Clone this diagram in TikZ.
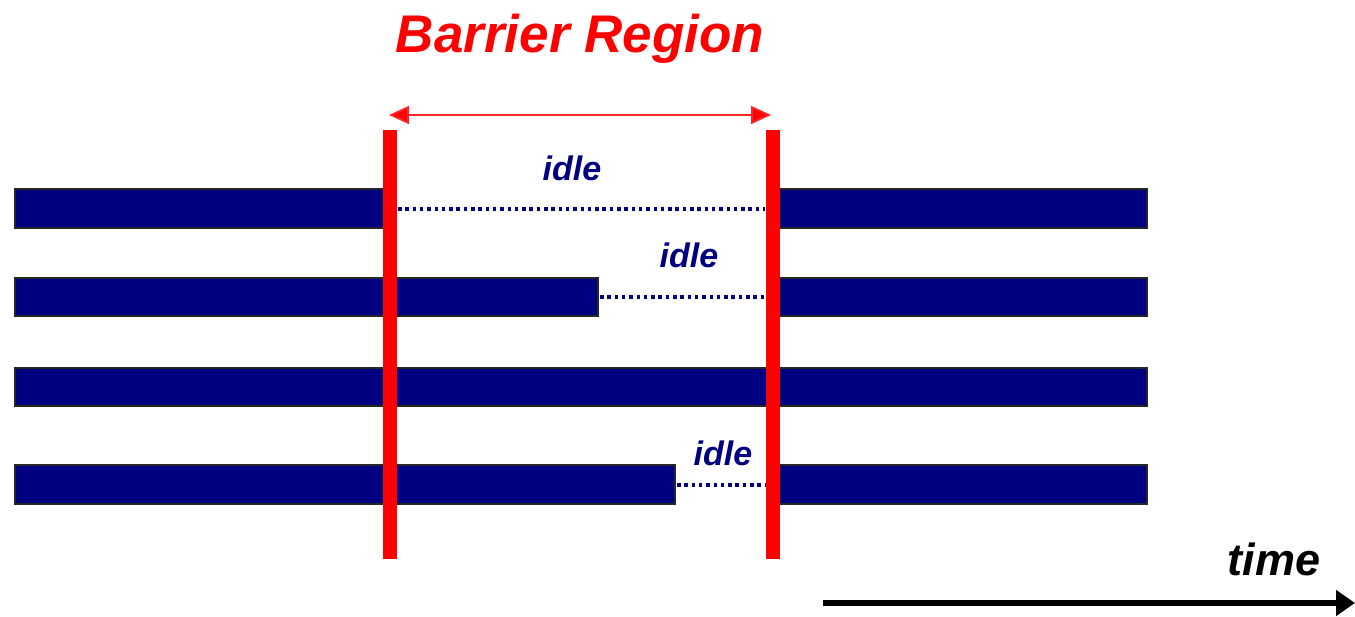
\documentclass[tikz,border=0pt]{standalone}
\usepackage{fontspec}
\setmainfont{Liberation Sans}
\usetikzlibrary{arrows.meta}
\definecolor{barblue}{HTML}{000080}
\definecolor{barred}{HTML}{FF0000}
\begin{document}
\begin{tikzpicture}[x=1pt,y=-1pt,
  task/.style={fill=barblue,draw=black!85,line width=1.2pt},
  barrier/.style={draw=barred,line width=14pt},
  idleline/.style={draw=barblue,line width=4.5pt,dash pattern=on 3.5pt off 3.8pt},
  idlelabel/.style={text=barblue,font=\fontsize{34}{40}\selectfont\bfseries\itshape,anchor=base,inner sep=0pt},
  span/.style={draw=barred!85,line width=1.8pt,{Triangle[length=20pt,width=18pt,fill=barred]}-{Triangle[length=20pt,width=18pt,fill=barred]}},
  timearrow/.style={draw=black,line width=6.5pt,-{Triangle[length=19pt,width=25pt]}}]
\useasboundingbox (0,0) rectangle (1355,617);

% barrier boundaries
\coordinate (b1top) at (390,130);
\coordinate (b1bot) at (390,559);
\coordinate (b2top) at (773,130);
\coordinate (b2bot) at (773,559);

% thread 1
\fill[task] (15,189) rectangle (390,228);
\fill[task] (773,189) rectangle (1147,228);
\coordinate (i1a) at (398,209);
\coordinate (i1b) at (765,209);
\draw[idleline] (i1a) -- (i1b);

% thread 2
\fill[task] (15,278) rectangle (598,316);
\fill[task] (773,278) rectangle (1147,316);
\coordinate (i2a) at (600,297);
\coordinate (i2b) at (765,297);
\draw[idleline] (i2a) -- (i2b);

% thread 3
\fill[task] (15,368) rectangle (1147,406);

% thread 4
\fill[task] (15,465) rectangle (675,504);
\fill[task] (773,465) rectangle (1147,504);
\coordinate (i4a) at (677,485);
\coordinate (i4b) at (765,485);
\draw[idleline] (i4a) -- (i4b);

% barrier lines
\draw[barrier] (b1top) -- (b1bot);
\draw[barrier] (b2top) -- (b2bot);

% barrier region span
\coordinate (sl) at (389,115);
\coordinate (sr) at (771,115);
\draw[span] (sl) -- (sr);
\node[text=barred,font=\fontsize{53}{60}\selectfont\bfseries\itshape,anchor=base,inner sep=0pt] (title) at (580,53) {Barrier Region};

% idle labels
\node[idlelabel] (idle1) at (572,181) {idle};
\node[idlelabel] (idle2) at (689,268) {idle};
\node[idlelabel] (idle3) at (723,465) {idle};

% time axis
\coordinate (t0) at (823,603);
\coordinate (t1) at (1355,603);
\draw[timearrow] (t0) -- (t1);
\node[font=\fontsize{45}{50}\selectfont\bfseries\itshape,anchor=base,inner sep=0pt] (time) at (1274,575) {time};
\end{tikzpicture}
\end{document}
